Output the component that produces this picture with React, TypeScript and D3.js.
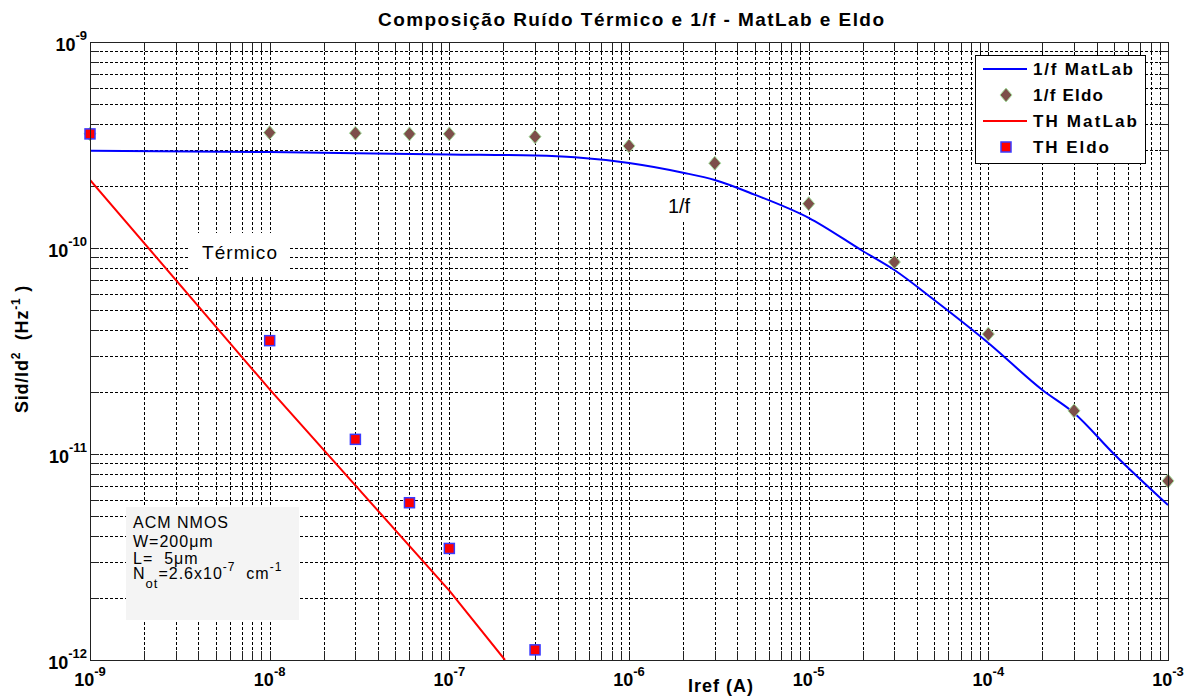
import React from 'react';
import * as d3 from 'd3';

const titleText = 'Composição Ruído Térmico e 1/f - MatLab e Eldo';
const xDecades = [-9, -8, -7, -6, -5, -4, -3];
const yDecades = [-12, -11, -10, -9];

const fMatlabI = [1e-9, 1e-8, 1e-7, 3e-7, 5e-7, 1e-6, 2e-6, 3e-6, 5e-6, 1e-5, 2e-5, 3e-5, 5e-5, 1e-4, 2e-4, 3e-4, 5e-4, 1e-3];
const fMatlabS = [2.968e-10, 2.924e-10, 2.844e-10, 2.812e-10, 2.76e-10, 2.586e-10, 2.32e-10, 2.138e-10, 1.816e-10, 1.401e-10, 9.67e-11, 7.82e-11, 5.59e-11, 3.46e-11, 2.045e-11, 1.581e-11, 1.0e-11, 5.65e-12];

const fEldoI = [1e-9, 1e-8, 3e-8, 6e-8, 1e-7, 3e-7, 1e-6, 3e-6, 1e-5, 3e-5, 1e-4, 3e-4, 1e-3];
const fEldoS = [3.58e-10, 3.63e-10, 3.61e-10, 3.58e-10, 3.58e-10, 3.47e-10, 3.13e-10, 2.58e-10, 1.64e-10, 8.55e-11, 3.82e-11, 1.62e-11, 7.4e-12];

const thMatlabI = [1e-9, 1e-8, 1e-7, 2.04e-7];
const thMatlabS = [2.14e-10, 2.06e-11, 2.17e-12, 1.0e-12];

const thEldoI = [1e-9, 1e-8, 3e-8, 6e-8, 1e-7, 3e-7];
const thEldoS = [3.58e-10, 3.55e-11, 1.178e-11, 5.8e-12, 3.48e-12, 1.12e-12];

const legendLabels = ['1/f MatLab', '1/f Eldo', 'TH MatLab', 'TH Eldo'];

const W = 1194;
const H = 699;
const L = 90, R = 1168, T = 42, B = 660;
const FONT = '"Liberation Sans", Arial, Helvetica, sans-serif';
const BLUE = '#0000ff';
const RED = '#ff0000';
const DIAMOND = '#7d4f4a';

export default function App() {
  const x = d3.scaleLog().domain([1e-9, 1e-3]).range([L, R]);
  const y = d3.scaleLog().domain([1e-12, 1e-9]).range([B, T]);

  const xGrid: number[] = [];
  xDecades.slice(0, -1).forEach((d) => {
    for (let k = 1; k <= 9; k++) xGrid.push(k * Math.pow(10, d));
  });
  xGrid.push(1e-3);
  const yGrid: number[] = [];
  yDecades.slice(0, -1).forEach((d) => {
    for (let k = 1; k <= 9; k++) yGrid.push(k * Math.pow(10, d));
  });
  yGrid.push(1e-9);

  const line = d3
    .line<[number, number]>()
    .x((d) => x(d[0]))
    .y((d) => y(d[1]))
    .curve(d3.curveMonotoneX);

  const blueData = fMatlabI.map((v, i) => [v, fMatlabS[i]] as [number, number]);
  const redData = thMatlabI.map((v, i) => [v, thMatlabS[i]] as [number, number]);
  const redLine = d3
    .line<[number, number]>()
    .x((d) => x(d[0]))
    .y((d) => y(d[1]));

  const diamondPath = 'M0,-7L6,0L0,7L-6,0Z';
  const tick = 9;

  const legendY = [69, 95, 121, 147];

  return (
    <div style={{ position: 'absolute', left: 0, top: 0 }}>
      <svg width={W} height={H} style={{ display: 'block', background: '#fff' }} fontFamily={FONT}>
        <defs>
          <clipPath id="plotclip">
            <rect x={L} y={T} width={R - L} height={B - T} />
          </clipPath>
        </defs>
        <rect x={0} y={0} width={W} height={H} fill="#fff" />

        {/* grid */}
        <g stroke="#000" strokeWidth={1} strokeDasharray="3,2" shapeRendering="crispEdges">
          {xGrid
            .filter((v) => v > 1e-9 * 1.001 && v < 1e-3 * 0.999)
            .map((v, i) => (
              <line key={'gx' + i} x1={Math.round(x(v)) + 0.5} x2={Math.round(x(v)) + 0.5} y1={T} y2={B} />
            ))}
          {yGrid
            .filter((v) => v > 1e-12 * 1.001 && v < 1e-9 * 0.999)
            .map((v, i) => (
              <line key={'gy' + i} y1={Math.round(y(v)) + 0.5} y2={Math.round(y(v)) + 0.5} x1={L} x2={R} />
            ))}
        </g>

        {/* ticks */}
        <g stroke="#222" strokeWidth={1} shapeRendering="crispEdges">
          {xGrid.map((v, i) => {
            const px = Math.round(x(v)) + 0.5;
            return (
              <g key={'tx' + i}>
                <line x1={px} x2={px} y1={B} y2={B - tick} />
                <line x1={px} x2={px} y1={T} y2={T + tick} />
              </g>
            );
          })}
          {yGrid.map((v, i) => {
            const py = Math.round(y(v)) + 0.5;
            return (
              <g key={'ty' + i}>
                <line x1={L} x2={L + tick} y1={py} y2={py} />
                <line x1={R} x2={R - tick} y1={py} y2={py} />
              </g>
            );
          })}
        </g>

        {/* text boxes */}
        <rect x={190} y={233} width={100} height={42} fill="#fff" />
        <text x={202} y={259} fontSize={19} textLength={75} lengthAdjust="spacing" fill="#000">
          Térmico
        </text>
        <rect x={660} y={191} width={38} height={30} fill="#fff" />
        <text x={668} y={213} fontSize={20} textLength={22} lengthAdjust="spacing" fill="#000">
          1/f
        </text>

        <rect x={126} y={507} width={173} height={113} fill="#f4f4f4" />
        <g fontSize={16} fill="#000" style={{ letterSpacing: '1px' }}>
          <text x={133} y={528}>ACM NMOS</text>
          <text x={133} y={547}>W=200μm</text>
          <text x={133} y={564} style={{ whiteSpace: 'pre' }}>L=  5μm</text>
          <text x={133} y={579} style={{ whiteSpace: 'pre' }}>
            N
            <tspan dy={9} fontSize={13}>ot</tspan>
            <tspan dy={-9}>=2.6x10</tspan>
            <tspan dy={-8} fontSize={12}>-7</tspan>
            <tspan dy={8}>  cm</tspan>
            <tspan dy={-8} fontSize={12}>-1</tspan>
          </text>
        </g>

        {/* lines */}
        <g clipPath="url(#plotclip)">
          <path d={redLine(redData) || ''} fill="none" stroke={RED} strokeWidth={2} />
          <path d={line(blueData) || ''} fill="none" stroke={BLUE} strokeWidth={2} />
        </g>

        {/* markers */}
        {fEldoI.map((v, i) => (
          <path
            key={'d' + i}
            d={diamondPath}
            transform={`translate(${x(v)},${y(fEldoS[i])})`}
            fill={DIAMOND}
            stroke="#a6e0a0"
            strokeWidth={1}
          />
        ))}
        {thEldoI.map((v, i) => (
          <rect
            key={'s' + i}
            x={x(v) - 5}
            y={y(thEldoS[i]) - 5}
            width={10}
            height={10}
            fill={RED}
            stroke="#3a3aff"
            strokeWidth={1.5}
          />
        ))}

        {/* frame */}
        <rect x={L + 0.5} y={T + 0.5} width={R - L} height={B - T} fill="none" stroke="#222" strokeWidth={1} shapeRendering="crispEdges" />

        {/* legend */}
        <rect x={975.5} y={55.5} width={170} height={108} fill="#fff" stroke="#000" strokeWidth={1} shapeRendering="crispEdges" />
        <line x1={983} x2={1027} y1={legendY[0]} y2={legendY[0]} stroke={BLUE} strokeWidth={2} />
        <path d={diamondPath} transform={`translate(1006,${legendY[1]})`} fill={DIAMOND} stroke="#a6e0a0" strokeWidth={1} />
        <line x1={983} x2={1027} y1={legendY[2]} y2={legendY[2]} stroke={RED} strokeWidth={2} />
        <rect x={1001} y={legendY[3] - 5} width={10} height={10} fill={RED} stroke="#3a3aff" strokeWidth={1.5} />
        <g fontSize={17} fontWeight="bold" fill="#000">
          {legendLabels.map((lab, i) => (
            <text key={lab} x={1033} y={legendY[i] + 6} textLength={[100, 70, 104, 76][i]} lengthAdjust="spacing">
              {lab}
            </text>
          ))}
        </g>

        {/* title */}
        <text x={378} y={26} fontSize={19} fontWeight="bold" textLength={506} lengthAdjust="spacing" fill="#000">
          {titleText}
        </text>

        {/* tick labels */}
        <g fontWeight="bold" fill="#000">
          {xDecades.map((d) => (
            <text key={'xl' + d} x={x(Math.pow(10, d))} y={686} textAnchor="middle" fontSize={18}>
              10
              <tspan dy={-10} fontSize={13}>{String(d)}</tspan>
            </text>
          ))}
          {yDecades.map((d) => (
            <text key={'yl' + d} x={87} y={y(Math.pow(10, d)) + 9} textAnchor="end" fontSize={18}>
              10
              <tspan dy={-11} fontSize={13}>{String(d)}</tspan>
            </text>
          ))}
        </g>

        {/* axis labels */}
        <text x={688} y={692} fontSize={18} fontWeight="bold" textLength={65} lengthAdjust="spacing" fill="#000">
          Iref (A)
        </text>
        <text
          transform="translate(28,349) rotate(-90)"
          textAnchor="middle"
          fontSize={18}
          fontWeight="bold"
          fill="#000"
          style={{ whiteSpace: 'pre', letterSpacing: '0.8px' }}
        >
          Sid/Id
          <tspan dy={-8} fontSize={12}>2</tspan>
          <tspan dy={8}>  (Hz</tspan>
          <tspan dy={-8} fontSize={12}>-1</tspan>
          <tspan dy={8}> )</tspan>
        </text>
      </svg>
    </div>
  );
}
